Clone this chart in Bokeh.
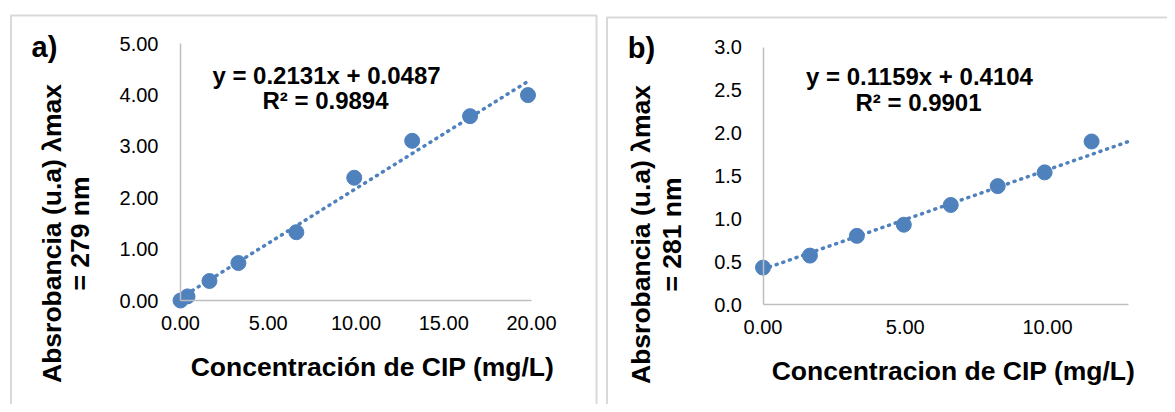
import math
from bokeh.plotting import figure
from bokeh.models import FixedTicker, NumeralTickFormatter, Range1d
from bokeh.layouts import row
from bokeh.core.properties import value
from bokeh.embed import file_html
from bokeh.resources import INLINE

# ---- data ----
conc_a = [0.0, 0.4, 1.65, 3.3, 6.6, 9.9, 13.2, 16.5, 19.8]
abs_a = [0.0, 0.08, 0.38, 0.73, 1.33, 2.39, 3.11, 3.59, 4.00]
slope_a, intercept_a, r2_a = 0.2131, 0.0487, 0.9894

conc_b = [0.0, 1.65, 3.3, 4.95, 6.6, 8.25, 9.9, 11.55]
abs_b = [0.43, 0.57, 0.80, 0.93, 1.16, 1.38, 1.54, 1.90]
slope_b, intercept_b, r2_b = 0.1159, 0.4104, 0.9901

xticks_a = [0, 5, 10, 15, 20]
yticks_a = [0, 1, 2, 3, 4, 5]
xticks_b = [0, 5, 10]
yticks_b = [0, 0.5, 1.0, 1.5, 2.0, 2.5, 3.0]

xtitle_a = "Concentración de CIP (mg/L)"
xtitle_b = "Concentracion de CIP (mg/L)"
ytitle_a = ["Absrobancia (u.a) λmax", "= 279 nm"]
ytitle_b = ["Absrobancia (u.a) λmax", "= 281 nm"]

FONT = "Liberation Sans"
BLUE = "#4F81BD"
AXIS_GREY = "#BFBFBF"
FRAME_GREY = "#D9D9D9"

# page geometry (pixels) of each panel: canvas origin/size and axis mapping
GA = dict(ox=0, oy=0, w=604, h=404, x0=180.0, kx=17.55, y0=300.0, ky=51.35)
GB = dict(ox=604, oy=0, w=563, h=404, x0=762.5, kx=28.45, y0=304.0, ky=85.8)


def dx(g, sx):
    return (sx - g["x0"]) / g["kx"]


def dy(g, sy):
    return (g["y0"] - sy) / g["ky"]


def make_panel(g, xs, ys, slope, intercept, r2, xbounds, ybounds, xticks, yticks,
               yfmt, xtitle, ytitles, tag, trend_end, pos, ystandoff):
    p = figure(width=g["w"], height=g["h"], output_backend="svg", toolbar_location=None,
               x_range=Range1d(dx(g, g["ox"]), dx(g, g["ox"] + g["w"])),
               y_range=Range1d(dy(g, g["oy"] + g["h"]), dy(g, g["oy"])),
               min_border=0, background_fill_color="white",
               border_fill_color="white", outline_line_color=None)
    p.grid.visible = False

    # chart-area border (light grey, running off the bottom of the page)
    bl, bt, br = pos["border"]
    p.line([dx(g, bl), dx(g, bl), dx(g, br), dx(g, br)],
           [dy(g, 430), dy(g, bt), dy(g, bt), dy(g, 430)],
           line_color=FRAME_GREY, line_width=2)

    for ax in (p.xaxis[0], p.yaxis[0]):
        ax.fixed_location = 0
        ax.axis_line_color = AXIS_GREY
        ax.axis_line_width = 1.5
        ax.major_tick_line_color = None
        ax.minor_tick_line_color = None
        ax.major_tick_out = 0
        ax.major_tick_in = 0
        ax.minor_tick_out = 0
        ax.major_label_text_font = FONT
        ax.major_label_text_font_size = "20px"
        ax.major_label_text_color = "#000000"

    p.xaxis.bounds = xbounds
    p.yaxis.bounds = ybounds
    p.xaxis.ticker = FixedTicker(ticks=xticks)
    p.yaxis.ticker = FixedTicker(ticks=yticks)
    p.xaxis.formatter = NumeralTickFormatter(format="0.00")
    p.yaxis.formatter = NumeralTickFormatter(format=yfmt)
    p.xaxis.major_label_standoff = 15
    p.yaxis.major_label_standoff = ystandoff

    # linear trendline
    tx = [min(xs), trend_end]
    ty = [slope * x + intercept for x in tx]
    p.line(tx, ty, line_color=BLUE, line_width=3.5, line_dash="1 6", line_cap="round")

    p.scatter(xs, ys, size=15, fill_color=BLUE, line_color=BLUE, marker="circle")

    def txt(sx, sy, s, size, angle=0.0):
        p.text([dx(g, sx)], [dy(g, sy)], text=[s], angle=angle,
               text_font=value(FONT), text_font_size=size, text_font_style="bold",
               text_align="center", text_baseline="middle", text_color="#000000")

    (e1x, e1y), (e2x, e2y) = pos["eq"]
    txt(e1x, e1y, f"y = {slope:.4f}x + {intercept:.4f}", "24px")
    txt(e2x, e2y, f"R² = {r2:.4f}", "24px")

    (t1x, t1y), (t2x, t2y) = pos["ytitle"]
    txt(t1x, t1y, ytitles[0], "26.5px", math.pi / 2)
    txt(t2x, t2y, ytitles[1], "26.5px", math.pi / 2)

    xtx, xty = pos["xtitle"]
    txt(xtx, xty, xtitle, "26.5px")

    lx, ly = pos["tag"]
    txt(lx, ly, tag, "29px")
    return p


pa = make_panel(GA, conc_a, abs_a, slope_a, intercept_a, r2_a, (0, 20), (0, 5),
                xticks_a, yticks_a, "0.00", xtitle_a, ytitle_a, "a)", max(conc_a),
                dict(border=(10.5, 15, 596), eq=((326, 75), (325, 100)),
                     ytitle=((51, 233), (79, 233)), xtitle=(372, 366), tag=(44, 46)),
                22)
pb = make_panel(GB, conc_b, abs_b, slope_b, intercept_b, r2_b, (0, 12.85), (0, 3),
                xticks_b, yticks_b, "0.0", xtitle_b, ytitle_b, "b)", 12.85,
                dict(border=(606.5, 17, 1200), eq=((919, 76), (918, 102)),
                     ytitle=((640, 234), (671, 234)), xtitle=(953, 370), tag=(641, 47)),
                21)

layout = row(pa, pb)
open("out.html", "w").write(file_html(layout, INLINE))
